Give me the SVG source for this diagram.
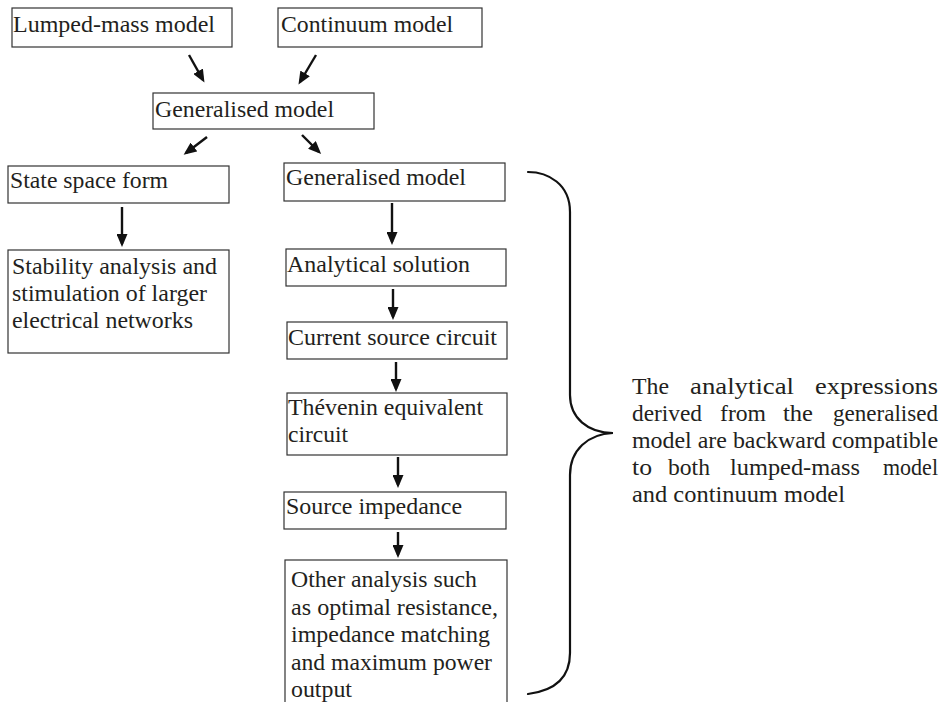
<svg xmlns="http://www.w3.org/2000/svg" width="942" height="702" viewBox="0 0 942 702">
<style>
.box{fill:#fff;stroke:#333;stroke-width:1.2}
.t{font-family:"Liberation Serif","Times New Roman",Times,serif;font-size:24px;fill:#231f20}
.c{stroke:#111;stroke-width:2.4;fill:none}
.brace{stroke:#111;stroke-width:2.2;fill:none;stroke-linecap:round}
</style>
<defs>
<marker id="ah" markerUnits="userSpaceOnUse" markerWidth="13" markerHeight="11" refX="10" refY="5.5" orient="auto">
<path d="M0,0 L13,5.5 L0,11 z" fill="#111"/>
</marker>
</defs>
<rect width="942" height="702" fill="#fff"/>
<g id="connectors">
<line class="c" x1="189" y1="55" x2="203" y2="80" marker-end="url(#ah)"/>
<line class="c" x1="316" y1="55" x2="300" y2="82" marker-end="url(#ah)"/>
<line class="c" x1="207" y1="137" x2="186" y2="153" marker-end="url(#ah)"/>
<line class="c" x1="302" y1="135" x2="319" y2="152" marker-end="url(#ah)"/>
<line class="c" x1="122" y1="207" x2="122" y2="244" marker-end="url(#ah)"/>
<line class="c" x1="392" y1="203" x2="392" y2="242" marker-end="url(#ah)"/>
<line class="c" x1="393" y1="289" x2="393" y2="317" marker-end="url(#ah)"/>
<line class="c" x1="396" y1="362" x2="396" y2="389" marker-end="url(#ah)"/>
<line class="c" x1="398" y1="457" x2="398" y2="485" marker-end="url(#ah)"/>
<line class="c" x1="398" y1="532" x2="398" y2="555" marker-end="url(#ah)"/>
</g>
<g id="lumped">
<rect class="box" x="12" y="8" width="220" height="39"/>
<text class="t" x="13" y="32" textLength="202" lengthAdjust="spacingAndGlyphs">Lumped-mass model</text>
</g>
<g id="continuum">
<rect class="box" x="278" y="8" width="204" height="39"/>
<text class="t" x="281" y="32" textLength="172" lengthAdjust="spacingAndGlyphs">Continuum model</text>
</g>
<g id="generalised-top">
<rect class="box" x="153" y="93" width="221" height="36"/>
<text class="t" x="155" y="116.5" textLength="179" lengthAdjust="spacingAndGlyphs">Generalised model</text>
</g>
<g id="state-space">
<rect class="box" x="8" y="166" width="221" height="37"/>
<text class="t" x="10" y="188" textLength="158" lengthAdjust="spacingAndGlyphs">State space form</text>
</g>
<g id="stability">
<rect class="box" x="8" y="250" width="221" height="103"/>
<text class="t" x="12" y="274" textLength="205" lengthAdjust="spacingAndGlyphs">Stability analysis and</text>
<text class="t" x="12" y="301" textLength="195" lengthAdjust="spacingAndGlyphs">stimulation of larger</text>
<text class="t" x="12" y="328" textLength="181" lengthAdjust="spacingAndGlyphs">electrical networks</text>
</g>
<g id="generalised-2">
<rect class="box" x="284" y="163" width="221" height="38"/>
<text class="t" x="286" y="185" textLength="180" lengthAdjust="spacingAndGlyphs">Generalised model</text>
</g>
<g id="analytical">
<rect class="box" x="286" y="249" width="220" height="37"/>
<text class="t" x="287" y="271.5" textLength="183" lengthAdjust="spacingAndGlyphs">Analytical solution</text>
</g>
<g id="current-source">
<rect class="box" x="287" y="322" width="220" height="37"/>
<text class="t" x="288" y="344.5" textLength="209" lengthAdjust="spacingAndGlyphs">Current source circuit</text>
</g>
<g id="thevenin">
<rect class="box" x="287" y="393" width="220" height="62"/>
<text class="t" x="288" y="415" textLength="195" lengthAdjust="spacingAndGlyphs">Thévenin equivalent</text>
<text class="t" x="288" y="441.5" textLength="60" lengthAdjust="spacingAndGlyphs">circuit</text>
</g>
<g id="source-impedance">
<rect class="box" x="284" y="492" width="222" height="37"/>
<text class="t" x="286" y="513.5" textLength="176" lengthAdjust="spacingAndGlyphs">Source impedance</text>
</g>
<g id="other">
<rect class="box" x="285" y="560" width="222" height="160"/>
<text class="t" x="291" y="587" textLength="186" lengthAdjust="spacingAndGlyphs">Other analysis such</text>
<text class="t" x="291" y="614.5" textLength="207" lengthAdjust="spacingAndGlyphs">as optimal resistance,</text>
<text class="t" x="291" y="642" textLength="199" lengthAdjust="spacingAndGlyphs">impedance matching</text>
<text class="t" x="291" y="669.5" textLength="201" lengthAdjust="spacingAndGlyphs">and maximum power</text>
<text class="t" x="291" y="697" textLength="61" lengthAdjust="spacingAndGlyphs">output</text>
</g>
<g id="brace">
<path class="brace" d="M528,172 C548,172 570,184 570,212 L570,395 C570,418 588,433 613,433 C588,434 570,450 570,475 L570,653 C570,680 552,691 528,694"/>
</g>
<g id="note">
<text class="t" y="394"><tspan x="632" textLength="37" lengthAdjust="spacingAndGlyphs">The</tspan><tspan x="690" textLength="104" lengthAdjust="spacingAndGlyphs">analytical</tspan><tspan x="815" textLength="123" lengthAdjust="spacingAndGlyphs">expressions</tspan></text>
<text class="t" y="421"><tspan x="632" textLength="70" lengthAdjust="spacingAndGlyphs">derived</tspan><tspan x="720" textLength="46" lengthAdjust="spacingAndGlyphs">from</tspan><tspan x="783" textLength="30" lengthAdjust="spacingAndGlyphs">the</tspan><tspan x="833" textLength="105" lengthAdjust="spacingAndGlyphs">generalised</tspan></text>
<text class="t" x="632" y="448" textLength="306" lengthAdjust="spacingAndGlyphs">model are backward compatible</text>
<text class="t" y="475"><tspan x="632" textLength="20" lengthAdjust="spacingAndGlyphs">to</tspan><tspan x="668" textLength="42" lengthAdjust="spacingAndGlyphs">both</tspan><tspan x="730" textLength="130" lengthAdjust="spacingAndGlyphs">lumped-mass</tspan><tspan x="883" textLength="55" lengthAdjust="spacingAndGlyphs">model</tspan></text>
<text class="t" x="632" y="502" textLength="213" lengthAdjust="spacingAndGlyphs">and continuum model</text>
</g>
</svg>
